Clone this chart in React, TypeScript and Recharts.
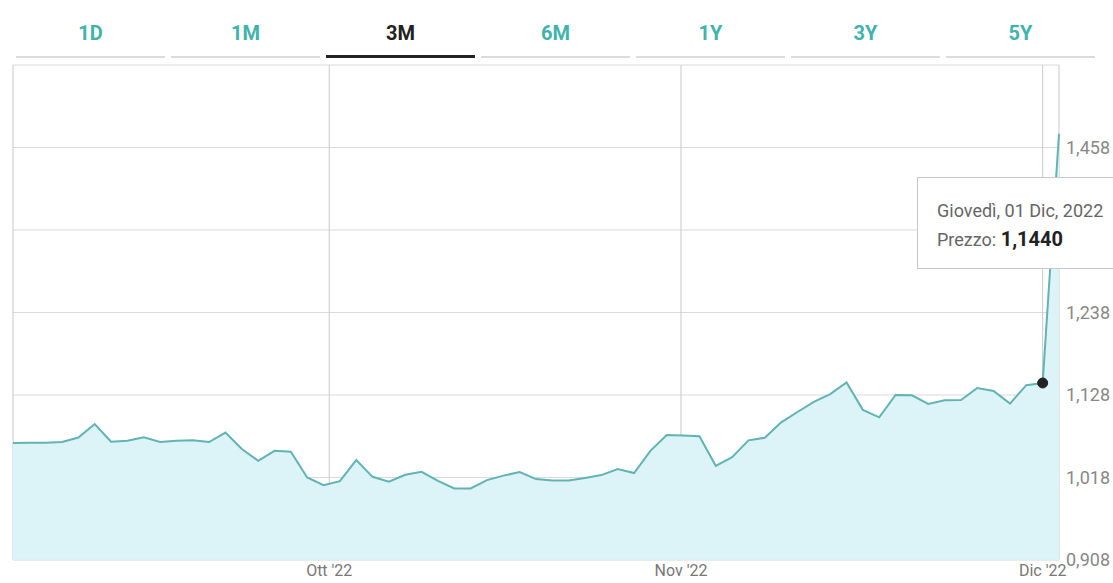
import React from "react"
import { Area, AreaChart, CartesianGrid, Tooltip, XAxis, YAxis } from "recharts"

// Prezzo giornaliero, vista 3M (sett. – 2 dic. 2022)
const PRICES = [
  1.0639, 1.0643, 1.0643, 1.0653, 1.0713, 1.0893, 1.0657, 1.067, 1.0715, 1.0653, 1.067, 1.0675, 1.0653,
  1.0779, 1.0559, 1.0403, 1.0536, 1.0523, 1.0181, 1.0078, 1.0132, 1.0412, 1.0189, 1.0123, 1.0216, 1.0256,
  1.0136, 1.0034, 1.0034, 1.0145, 1.0205, 1.0252, 1.0159, 1.0139, 1.0139, 1.0172, 1.0212, 1.0292, 1.0239,
  1.0536, 1.0746, 1.0739, 1.0729, 1.0336, 1.0452, 1.0675, 1.071, 1.0916, 1.1053, 1.1187, 1.1293, 1.1447,
  1.1082, 1.0982, 1.128, 1.1276, 1.116, 1.1209, 1.1213, 1.1373, 1.1333, 1.1165, 1.1411, 1.144, 1.4764,
]

// inizio mese sull'asse ordinale (indice di seduta, anche frazionario)
const MONTH_TICKS = [0, 19.35, 40.87, 63]
const MONTH_LABELS = ["", "Ott '22", "Nov '22", "Dic '22"]

const PRICE_TICKS = [0.908, 1.018, 1.128, 1.238, 1.348, 1.458]
const PRICE_DOMAIN = [0.908, 1.568]

const RANGES = ["1D", "1M", "3M", "6M", "1Y", "3Y", "5Y"]
const ACTIVE_RANGE = "3M"

const HOVER_INDEX = 63
const HOVER_LABEL = "Giovedì, 01 Dic, 2022"

const data = PRICES.map((price, i) => ({ i, price }))

const TEAL = "#41b3ac"
const FONT = "Roboto, 'Noto Sans', sans-serif"

const itNumber = (v: number, digits: number) => v.toFixed(digits).replace(".", ",")

function PriceTooltip({ active, payload }: any) {
  if (!active || !payload || payload.length === 0) return null
  const price = payload[0].payload.price as number
  return (
    <div
      style={{
        width: 215,
        height: 92,
        boxSizing: "border-box",
        background: "#fff",
        border: "1px solid #c9c9c9",
        padding: "19px 0 0 19px",
        fontFamily: FONT,
        fontSize: 18,
        lineHeight: "28px",
        color: "#666",
        whiteSpace: "nowrap",
      }}
    >
      <div>{HOVER_LABEL}</div>
      <div>
        Prezzo: <span style={{ color: "#222", fontWeight: 700, fontSize: 20 }}>{itNumber(price, 4)}</span>
      </div>
    </div>
  )
}

function RangeTabs() {
  return (
    <>
      {RANGES.map((r, k) => {
        const active = r === ACTIVE_RANGE
        return (
          <div
            key={r}
            style={{
              position: "absolute",
              left: 16 + k * 155,
              top: 20,
              width: 149,
              height: 38,
              textAlign: "center",
              fontFamily: FONT,
              fontWeight: 700,
              fontSize: 20,
              lineHeight: "26px",
              color: active ? "#222" : TEAL,
              borderBottom: active ? "3px solid #222" : "2px solid #dcdcdc",
              boxSizing: "border-box",
            }}
          >
            {r}
          </div>
        )
      })}
    </>
  )
}

export default function App() {
  return (
    <div
      style={{
        position: "absolute",
        left: 0,
        top: 0,
        width: 1113,
        height: 583,
        overflow: "hidden",
        background: "#fff",
      }}
    >
      <RangeTabs />
      <div style={{ position: "absolute", left: 0, top: 0 }}>
        <AreaChart width={1113} height={583} data={data} margin={{ top: 65, right: 0, bottom: 0, left: 13 }}>
          <CartesianGrid vertical={false} stroke="#dadada" />
          <CartesianGrid horizontal={false} stroke="#c9c9c9" />
          <XAxis
            type="number"
            dataKey="i"
            domain={[0, PRICES.length - 1]}
            ticks={MONTH_TICKS}
            interval={0}
            tickFormatter={(v: number) => MONTH_LABELS[MONTH_TICKS.indexOf(v)] ?? ""}
            height={23}
            tickSize={0}
            tickMargin={5}
            axisLine={{ stroke: "#e4e4e4", strokeDasharray: "2 2" }}
            tick={{ fill: "#777", fontSize: 16, fontFamily: FONT }}
          />
          <YAxis
            orientation="right"
            domain={PRICE_DOMAIN}
            ticks={PRICE_TICKS}
            interval={0}
            width={54}
            tickSize={0}
            tickMargin={7}
            axisLine={false}
            tickFormatter={(v: number) => itNumber(v, 3)}
            tick={{ fill: "#888", fontSize: 18, fontFamily: FONT }}
          />
          <Tooltip
            active
            defaultIndex={HOVER_INDEX}
            position={{ x: 917, y: 177 }}
            cursor={false}
            content={<PriceTooltip />}
            wrapperStyle={{ zIndex: 10 }}
            isAnimationActive={false}
          />
          <Area
            type="linear"
            dataKey="price"
            stroke="#62b3b4"
            strokeWidth={2}
            fill="#dcf4f7"
            fillOpacity={1}
            dot={false}
            activeDot={{ r: 5, fill: "#222", stroke: "#222", strokeWidth: 1 }}
            isAnimationActive={false}
          />
        </AreaChart>
      </div>
    </div>
  )
}
